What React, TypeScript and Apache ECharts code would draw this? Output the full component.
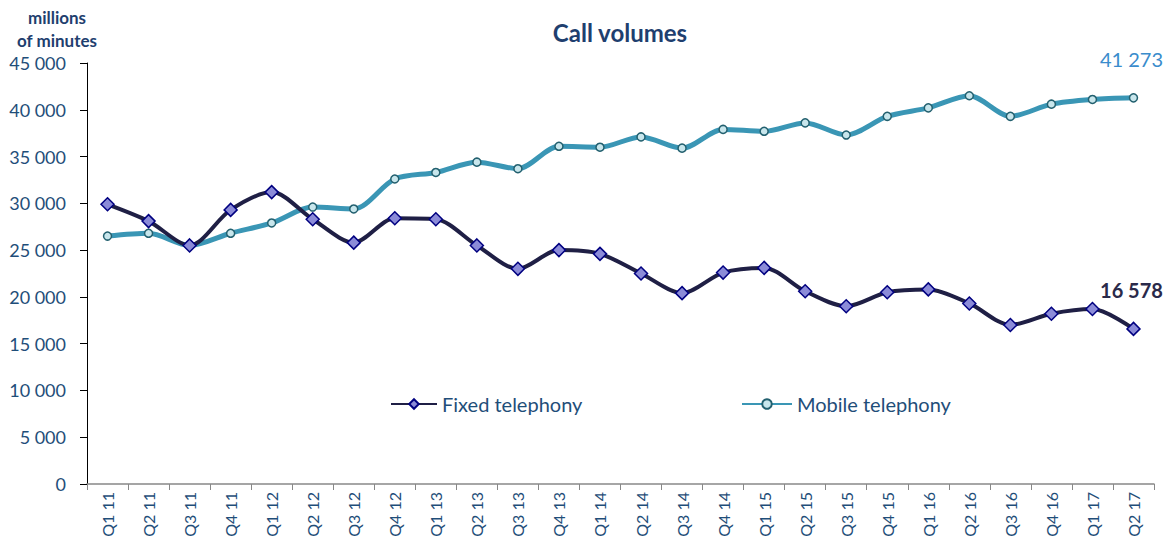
import React, { useEffect, useRef } from "react";
import * as echarts from "echarts";

const categories = ["Q1 11","Q2 11","Q3 11","Q4 11","Q1 12","Q2 12","Q3 12","Q4 12","Q1 13","Q2 13","Q3 13","Q4 13","Q1 14","Q2 14","Q3 14","Q4 14","Q1 15","Q2 15","Q3 15","Q4 15","Q1 16","Q2 16","Q3 16","Q4 16","Q1 17","Q2 17"];
const fixedTelephony = [29900,28100,25500,29300,31200,28300,25800,28400,28300,25500,23000,25000,24600,22500,20400,22600,23100,20600,19000,20500,20800,19300,17000,18200,18700,16578];
const mobileTelephony = [26500,26800,25500,26800,27900,29600,29400,32600,33300,34400,33700,36100,36000,37100,35900,37900,37700,38600,37300,39300,40200,41500,39300,40600,41100,41273];

const FONT = "Lato";
const fmt = (v: number) => String(Math.round(v)).replace(/\B(?=(\d{3})+(?!\d))/g, " ");

export default function App() {
  const ref = useRef<HTMLDivElement>(null);
  useEffect(() => {
    const chart = echarts.init(ref.current!, null, { renderer: "svg" });
    const last = categories.length - 1;
    chart.setOption({
      animation: false,
      textStyle: { fontFamily: FONT },
      graphic: [
        {
          type: "text",
          x: 620,
          y: 20,
          style: {
            text: "Call volumes",
            fontFamily: FONT,
            fontSize: 24,
            fontWeight: "bold",
            fill: "#1f3f6f",
            align: "center",
          },
        },
        {
          type: "text",
          x: 57,
          y: 6,
          style: {
            text: "millions\nof minutes",
            fontFamily: FONT,
            fontSize: 17,
            fontWeight: "bold",
            fill: "#1f3f6f",
            align: "center",
            lineHeight: 23,
          },
        },
      ],
      legend: [
        {
          data: ["Fixed telephony"],
          left: 385,
          top: 389,
          itemWidth: 46,
          itemHeight: 12,
          itemGap: 8,
          textStyle: { fontFamily: FONT, fontSize: 20, color: "#1f4e79" },
        },
        {
          data: ["Mobile telephony"],
          left: 736,
          top: 389,
          itemWidth: 50,
          itemHeight: 12,
          textStyle: { fontFamily: FONT, fontSize: 20, color: "#1f4e79" },
        },
      ],
      grid: { left: 87, right: 12, top: 63, bottom: 57, containLabel: false },
      xAxis: {
        type: "category",
        data: categories,
        boundaryGap: true,
        axisLine: { lineStyle: { color: "#888888", width: 1.5 } },
        axisTick: { show: true, alignWithLabel: false, length: 6, lineStyle: { color: "#888888" } },
        axisLabel: {
          rotate: 90,
          interval: 0,
          margin: 8,
          fontFamily: FONT,
          fontSize: 16,
          color: "#1f4e79",
        },
      },
      yAxis: {
        type: "value",
        min: 0,
        max: 45000,
        interval: 5000,
        splitLine: { show: false },
        axisLine: { show: true, lineStyle: { color: "#000000", width: 1 } },
        axisTick: { show: true, length: 7, lineStyle: { color: "#000000" } },
        axisLabel: {
          margin: 21,
          fontFamily: FONT,
          fontSize: 18,
          color: "#1f4e79",
          formatter: (v: number) => fmt(v),
        },
      },
      series: [
        {
          name: "Mobile telephony",
          type: "line",
          data: mobileTelephony.map((v, i) =>
            i === last
              ? {
                  value: v,
                  label: {
                    show: true,
                    position: "top",
                    distance: 24,
                    offset: [-2, 0],
                    formatter: (p: any) => fmt(p.value),
                    fontFamily: FONT,
                    fontSize: 20,
                    color: "#3a8ccc",
                  },
                }
              : v
          ),
          smooth: 0.3,
          symbol: "circle",
          symbolSize: 8,
          lineStyle: { color: "#3a96b5", width: 5 },
          itemStyle: { color: "#c8e6ec", borderColor: "#23606f", borderWidth: 1.5 },
          z: 2,
        },
        {
          name: "Fixed telephony",
          type: "line",
          data: fixedTelephony.map((v, i) =>
            i === last
              ? {
                  value: v,
                  label: {
                    show: true,
                    position: "top",
                    distance: 22,
                    offset: [-2, 0],
                    formatter: (p: any) => fmt(p.value),
                    fontFamily: FONT,
                    fontSize: 20,
                    fontWeight: "bold",
                    color: "#2a2a4a",
                  },
                }
              : v
          ),
          smooth: 0.3,
          symbol: "diamond",
          symbolSize: 13,
          lineStyle: { color: "#1f1f45", width: 4 },
          itemStyle: { color: "#8b8bd8", borderColor: "#000080", borderWidth: 1.5 },
          z: 3,
        },
      ],
    });
    return () => chart.dispose();
  }, []);
  return <div ref={ref} style={{ width: 1166, height: 541, position: "absolute", left: 0, top: 0 }} />;
}
